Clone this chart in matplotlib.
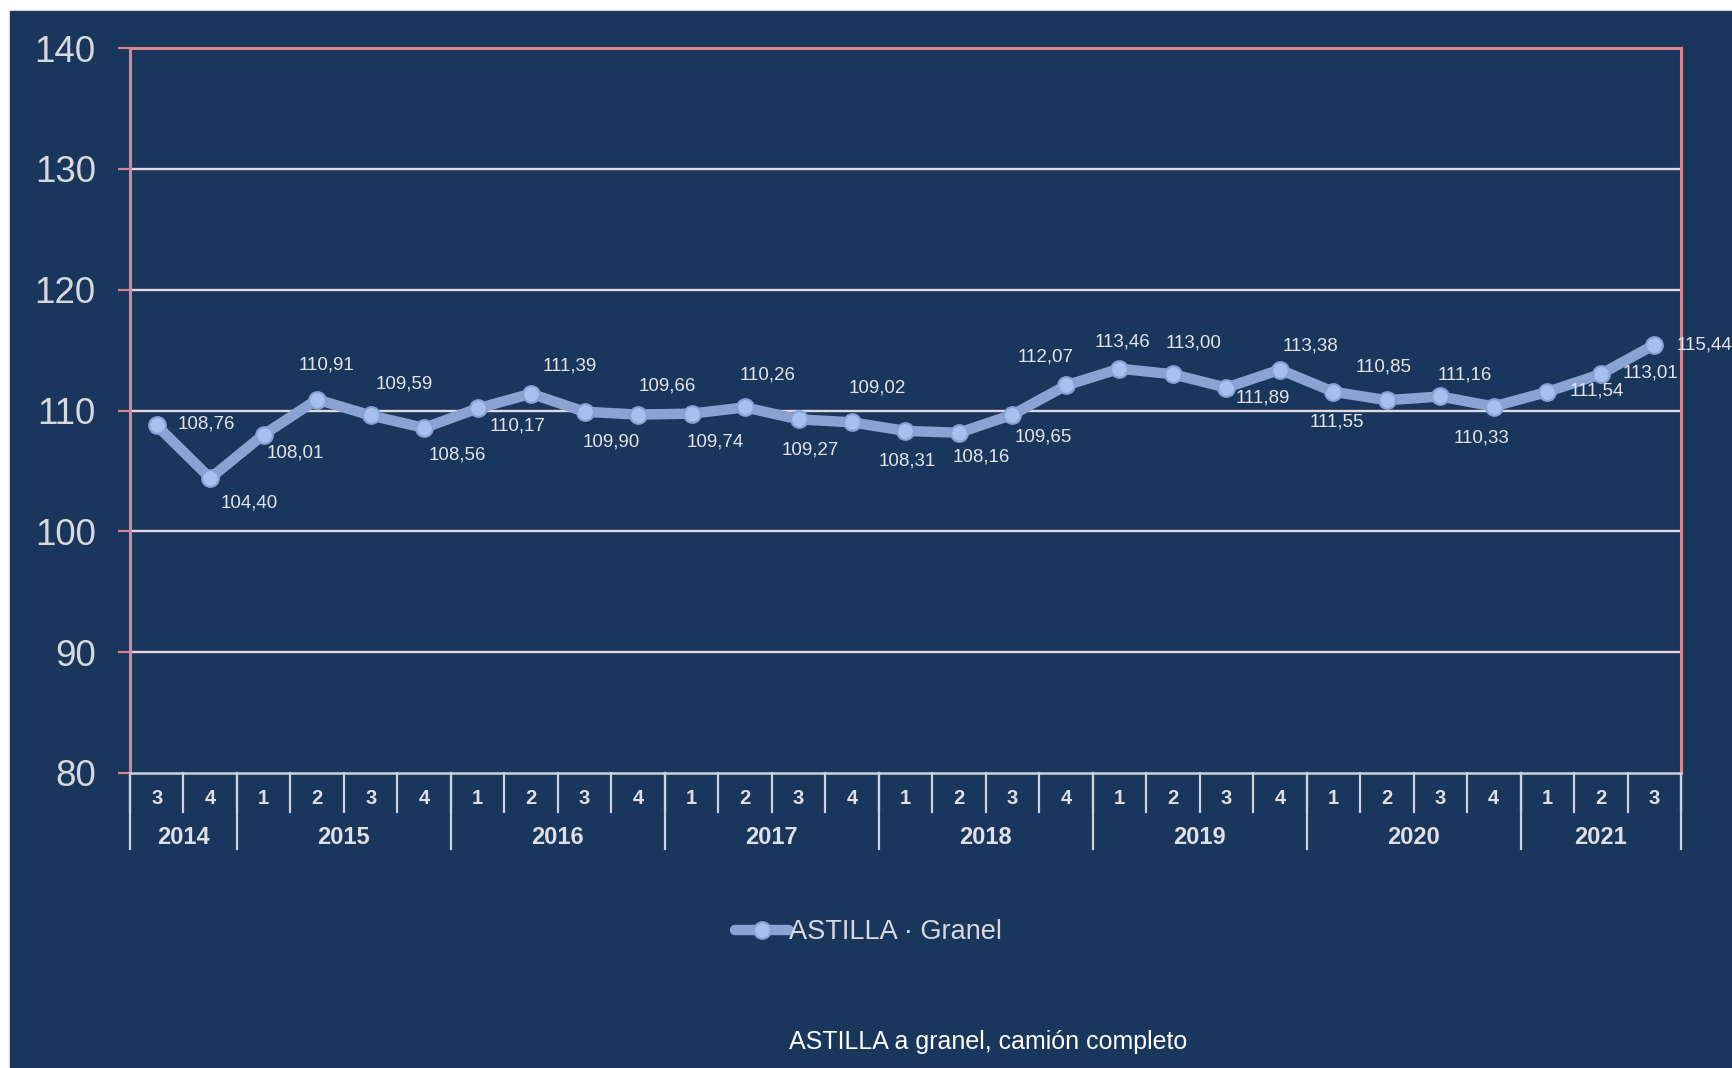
import numpy as np
import matplotlib
matplotlib.use("Agg")
import matplotlib.pyplot as plt
from matplotlib import font_manager
from matplotlib.patches import Rectangle

# data
years = ['2014', '2015', '2016', '2017', '2018', '2019', '2020', '2021']
quarters_per_year = [2, 4, 4, 4, 4, 4, 4, 3]
quarters = ['3', '4'] + ['1', '2', '3', '4'] * 6 + ['1', '2', '3']
values = [108.76, 104.40, 108.01, 110.91, 109.59, 108.56, 110.17, 111.39,
          109.90, 109.66, 109.74, 110.26, 109.27, 109.02, 108.31, 108.16,
          109.65, 112.07, 113.46, 113.00, 111.89, 113.38, 111.55, 110.85,
          111.16, 110.33, 111.54, 113.01, 115.44]
series_name = 'ASTILLA · Granel'
caption = 'ASTILLA a granel, camión completo'

# where each value label sits relative to its point (pixels)
label_offsets = [(50, 1), (39, -25), (32, -18), (9, 35), (34, 31), (33, -27),
                 (40, -18), (39, 28), (27, -30), (29, 29), (24, -28), (23, 32),
                 (12, -31), (25, 34), (2, -30), (22, -24), (31, -22), (-20, 28),
                 (3, 27), (21, 31), (36, -10), (31, 24), (4, -30), (-3, 33),
                 (24, 21), (-12, -31), (50, 1), (50, 1), (50, 0)]

navy = '#19365d'
pink = '#d9848f'
grid_col = '#e6d8dc'
sep_col = '#cfd0d8'
line_col = '#8aa3d3'

names = {f.name for f in font_manager.fontManager.ttflist}
has_narrow = 'Liberation Sans Narrow' in names
narrow = 'Liberation Sans Narrow' if has_narrow else 'Liberation Sans'
label_size = 15 if has_narrow else 13.5
caption_size = 21 if has_narrow else 18

W, H = 1733, 1068
fig = plt.figure(figsize=(W / 100, H / 100), dpi=100, facecolor='white')
fig.patches.append(Rectangle((10 / W, 0), 1, 1 - 11 / H, transform=fig.transFigure,
                             color=navy, zorder=-10))

ax = fig.add_axes([130 / W, 1 - 773 / H, (1681 - 130) / W, (773 - 48) / H])
ax.set_facecolor(navy)

x = np.arange(len(values))
line, = ax.plot(x, values, color=line_col, lw=7.5, solid_capstyle='round',
                marker='o', ms=12, mfc='#a7c1ee', mec='#86a2d6', mew=1.5,
                zorder=3, label=series_name)

for xi, v, (dx, dy) in zip(x, values, label_offsets):
    ax.annotate(f'{v:.2f}'.replace('.', ','), (xi, v), xytext=(dx, dy),
                textcoords='offset pixels', ha='center', va='center',
                fontsize=label_size, family=narrow, color='#e4e4e6', zorder=4)

ax.set_xlim(-0.5, len(values) - 0.5)
ax.set_ylim(80, 140)
ax.set_yticks(range(80, 141, 10))
for yv in range(90, 140, 10):
    ax.axhline(yv, color=grid_col, lw=1.7, zorder=1)

ax.tick_params(axis='y', length=8.6, width=1.6, color=pink, pad=16,
               labelsize=26.5, labelcolor='#d9d9dc')
for t in ax.get_yticklabels():
    t.set_family('Liberation Sans')
ax.set_xticks([])

for s in ['left', 'right', 'top']:
    ax.spines[s].set_color(pink)
    ax.spines[s].set_linewidth(2.2)
ax.spines['bottom'].set_color(sep_col)
ax.spines['bottom'].set_linewidth(1.8)

# two-level category axis
tr = ax.get_xaxis_transform()
for xi, q in zip(x, quarters):
    ax.text(xi, -0.0345, q, transform=tr, ha='center', va='center',
            fontsize=14.5, fontweight='bold', family='Liberation Sans', color='#e0e0e4')
for b in np.arange(len(values) + 1) - 0.5:
    ax.plot([b, b], [0, -0.0538], transform=tr, color=sep_col, lw=1.6, clip_on=False)

bounds = np.concatenate([[0], np.cumsum(quarters_per_year)]) - 0.5
for i, yr in enumerate(years):
    ax.text((bounds[i] + bounds[i + 1]) / 2, -0.0883, yr, transform=tr,
            ha='center', va='center', fontsize=17, fontweight='bold',
            family='Liberation Sans', color='#e0e0e4')
for b in bounds:
    ax.plot([b, b], [0, -0.1048], transform=tr, color=sep_col, lw=1.6, clip_on=False)

leg = fig.legend(handles=[line], loc='center', bbox_to_anchor=(0.5012, 1 - 932 / H),
                 frameon=False, handlelength=2.0, handletextpad=0.0, numpoints=1,
                 prop={'family': 'Liberation Sans', 'size': 19.5})
for t in leg.get_texts():
    t.set_color('#d9d9dc')

fig.text(988 / W, 1 - 1042 / H, caption, ha='center', va='center',
         fontsize=caption_size, family=narrow, color='white')

fig.savefig('out.png', dpi=100, facecolor='white')
